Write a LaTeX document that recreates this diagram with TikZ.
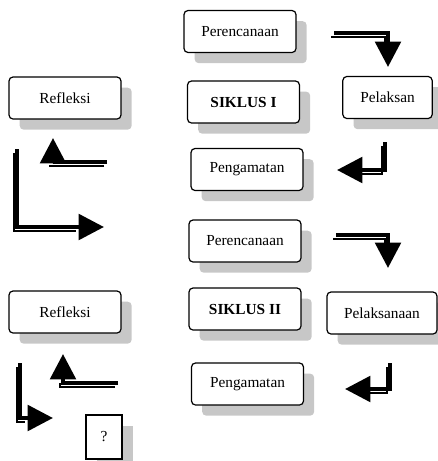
\documentclass[tikz,border=0pt]{standalone}
\usepackage{fontspec}
\setmainfont{Liberation Serif}
\usetikzlibrary{shadows,arrows.meta}

\tikzset{
  stage/.style={draw, rounded corners=3pt, line width=0.9pt, fill=white,
    minimum width=84pt, minimum height=31.5pt, inner sep=1pt,
    font=\fontsize{11.5}{13}\selectfont,
    drop shadow={shadow xshift=8pt, shadow yshift=-8pt, fill=black!22, opacity=1}},
  flow/.style={line width=3.2pt, -{Triangle[length=19pt,width=19pt]}},
  flowshadow/.style={line width=0.8pt, shorten >=19pt,
    transform canvas={xshift=-2.25pt,yshift=-3pt}}
}

\begin{document}
\begin{tikzpicture}[x=0.75pt,y=-0.75pt]
\useasboundingbox (0,0) rectangle (438,461);

% siklus I
\node[stage] (per1) at (240,31.5) {Perencanaan};
\node[stage] (sik1) at (243.5,102) {\textbf{SIKLUS I}};
\node[stage, minimum width=67pt] (pel1) at (387.5,97.5) {Pelaksan};
\node[stage] (pen1) at (247,169.5) {Pengamatan};
\node[stage] (ref1) at (65,98) {Refleksi};

\coordinate (a1) at (334,33);  \coordinate (a1e) at (388,67);
\coordinate (b1) at (385,142); \coordinate (b1e) at (337,170);
\coordinate (c1) at (107,162); \coordinate (c1e) at (53,138);
\coordinate (d1) at (17,149);  \coordinate (d1e) at (104,227);

\draw[flowshadow] (a1) -| (a1e);
\draw[flow] (a1) -| (a1e);
\draw[flowshadow] (b1) |- (b1e);
\draw[flow] (b1) |- (b1e);
\draw[flowshadow] (c1) -| (c1e);
\draw[flow] (c1) -| (c1e);
\draw[flowshadow] (d1) |- (d1e);
\draw[flow] (d1) |- (d1e);

% siklus II
\node[stage] (per2) at (245,241) {Perencanaan};
\node[stage] (sik2) at (245,309) {\textbf{SIKLUS II}};
\node[stage, minimum width=82.5pt] (pel2) at (382,313) {Pelaksanaan};
\node[stage] (pen2) at (247.5,384) {Pengamatan};
\node[stage] (ref2) at (65,312) {Refleksi};
\node[stage, rounded corners=0pt, minimum width=27pt, minimum height=33pt] (next) at (104,437) {?};

\coordinate (a2) at (336,235); \coordinate (a2e) at (388,268);
\coordinate (b2) at (390,363); \coordinate (b2e) at (345,389);
\coordinate (c2) at (118,383); \coordinate (c2e) at (63,354);
\coordinate (d2) at (20,363);  \coordinate (d2e) at (53,418);

\draw[flowshadow] (a2) -| (a2e);
\draw[flow] (a2) -| (a2e);
\draw[flowshadow] (b2) |- (b2e);
\draw[flow] (b2) |- (b2e);
\draw[flowshadow] (c2) -| (c2e);
\draw[flow] (c2) -| (c2e);
\draw[flowshadow] (d2) |- (d2e);
\draw[flow] (d2) |- (d2e);

\end{tikzpicture}
\end{document}
